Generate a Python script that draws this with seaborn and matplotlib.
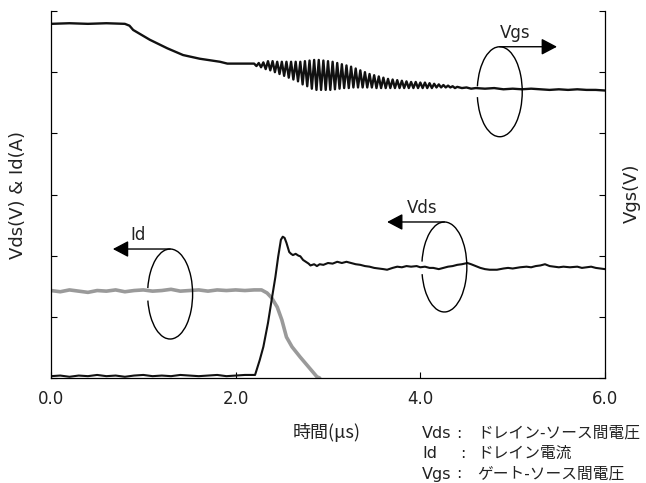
import numpy as np
import matplotlib
matplotlib.use("Agg")
import matplotlib.pyplot as plt
import seaborn as sns
from matplotlib.patches import Arc

# ---------------- data ----------------
# Vgs (black, top trace)
vgs_t = [0.0, 0.2, 0.4, 0.6, 0.80, 0.85, 0.89, 1.07, 1.26, 1.43, 1.61, 1.83, 1.91, 2.05, 2.15,
         2.200, 2.225, 2.250, 2.275, 2.300, 2.325, 2.350, 2.375, 2.400, 2.425, 2.450, 2.475,
         2.500, 2.525, 2.550, 2.575, 2.600, 2.625, 2.650, 2.675, 2.700, 2.725, 2.750, 2.775,
         2.800, 2.825, 2.850, 2.875, 2.900, 2.925, 2.950, 2.975, 3.000, 3.025, 3.050, 3.075,
         3.100, 3.125, 3.150, 3.175, 3.200, 3.225, 3.250, 3.275, 3.300, 3.325, 3.350, 3.375,
         3.400, 3.425, 3.450, 3.475, 3.500, 3.525, 3.550, 3.575, 3.600, 3.625, 3.650, 3.675,
         3.700, 3.725, 3.750, 3.775, 3.800, 3.825, 3.850, 3.875, 3.900, 3.925, 3.950, 3.975,
         4.000, 4.025, 4.050, 4.075, 4.100, 4.125, 4.150, 4.175, 4.200, 4.225, 4.250, 4.275,
         4.300, 4.325, 4.350, 4.375, 4.400,
         4.45, 4.50, 4.55, 4.60, 4.70, 4.80, 4.90, 5.00, 5.10, 5.20, 5.30, 5.40, 5.50, 5.60,
         5.70, 5.80, 5.90, 6.00]
vgs_v = [5.79, 5.80, 5.79, 5.80, 5.79, 5.76, 5.69, 5.53, 5.39, 5.28, 5.22, 5.17, 5.14, 5.14, 5.14,
         5.14, 5.10, 5.15, 5.08, 5.16, 5.05, 5.18, 5.03, 5.18, 5.00, 5.17, 4.97,
         5.17, 4.94, 5.17, 4.91, 5.17, 4.88, 5.17, 4.85, 5.17, 4.80, 5.18, 4.77,
         5.19, 4.73, 5.20, 4.71, 5.20, 4.71, 5.19, 4.71, 5.18, 4.71, 5.17, 4.72,
         5.15, 4.73, 5.13, 4.74, 5.11, 4.74, 5.09, 4.75, 5.06, 4.75, 5.03, 4.75,
         5.00, 4.75, 4.97, 4.75, 4.95, 4.74, 4.93, 4.74, 4.91, 4.74, 4.89, 4.74,
         4.88, 4.74, 4.87, 4.74, 4.86, 4.74, 4.85, 4.74, 4.84, 4.74, 4.84, 4.74,
         4.83, 4.74, 4.83, 4.74, 4.82, 4.74, 4.81, 4.75, 4.80, 4.75, 4.79, 4.75,
         4.78, 4.75, 4.77, 4.74, 4.76,
         4.74, 4.75, 4.73, 4.74, 4.73, 4.74, 4.72, 4.73, 4.72, 4.73, 4.72, 4.71, 4.72, 4.71,
         4.72, 4.71, 4.71, 4.70]

# Vds (black, lower trace)
vds_t = [0.0, 0.1, 0.2, 0.3, 0.4, 0.5, 0.6, 0.7, 0.8, 0.9, 1.0, 1.1, 1.2, 1.3, 1.4, 1.5, 1.6,
         1.7, 1.8, 1.9, 2.0, 2.1, 2.21, 2.26, 2.30, 2.35, 2.39, 2.43, 2.46, 2.49, 2.51, 2.53,
         2.55, 2.58, 2.60, 2.62, 2.65, 2.68, 2.70, 2.73, 2.76, 2.79, 2.81, 2.85, 2.88, 2.91,
         2.95, 3.00, 3.05, 3.10, 3.15, 3.20, 3.25, 3.30, 3.35, 3.40, 3.45, 3.50, 3.55, 3.60,
         3.64, 3.70, 3.75, 3.80, 3.85, 3.90, 3.96, 4.00, 4.05, 4.10, 4.14, 4.20, 4.25, 4.30,
         4.35, 4.40, 4.45, 4.51, 4.55, 4.60, 4.65, 4.70, 4.75, 4.83, 4.90, 4.95, 5.00, 5.08,
         5.15, 5.20, 5.25, 5.30, 5.35, 5.40, 5.45, 5.50, 5.55, 5.62, 5.70, 5.75, 5.80, 5.85,
         5.90, 5.95, 6.00]
vds_v = [0.03, 0.04, 0.02, 0.04, 0.03, 0.05, 0.03, 0.04, 0.02, 0.04, 0.05, 0.03, 0.04, 0.03,
         0.05, 0.04, 0.03, 0.04, 0.05, 0.03, 0.04, 0.05, 0.05, 0.29, 0.51, 0.90, 1.28, 1.65,
         1.98, 2.26, 2.31, 2.29, 2.21, 2.06, 2.03, 2.01, 2.03, 2.00, 1.99, 1.93, 1.90, 1.87,
         1.84, 1.86, 1.83, 1.86, 1.85, 1.88, 1.87, 1.90, 1.88, 1.90, 1.88, 1.86, 1.85, 1.83,
         1.82, 1.80, 1.79, 1.78, 1.77, 1.80, 1.82, 1.81, 1.83, 1.82, 1.83, 1.81, 1.82, 1.80,
         1.80, 1.78, 1.80, 1.82, 1.83, 1.85, 1.86, 1.88, 1.86, 1.83, 1.80, 1.78, 1.77, 1.77,
         1.79, 1.80, 1.79, 1.81, 1.82, 1.81, 1.83, 1.84, 1.86, 1.83, 1.82, 1.81, 1.82, 1.81,
         1.82, 1.80, 1.81, 1.82, 1.80, 1.79, 1.78]

# Id (grey trace)
id_t = [0.0, 0.1, 0.2, 0.3, 0.4, 0.5, 0.6, 0.7, 0.8, 0.9, 1.0, 1.1, 1.2, 1.3, 1.4, 1.5, 1.6,
        1.7, 1.8, 1.9, 2.0, 2.1, 2.2, 2.28, 2.34, 2.39, 2.45, 2.50, 2.55, 2.61, 2.70, 2.79,
        2.88, 2.91]
id_v = [1.43, 1.41, 1.44, 1.42, 1.40, 1.43, 1.42, 1.44, 1.41, 1.43, 1.44, 1.42, 1.43, 1.45,
        1.42, 1.43, 1.44, 1.42, 1.44, 1.43, 1.44, 1.43, 1.44, 1.44, 1.39, 1.31, 1.16, 0.95,
        0.67, 0.51, 0.34, 0.18, 0.02, 0.0]

x_ticks = [0, 2, 4, 6]
x_tick_labels = ["0.0", "2.0", "4.0", "6.0"]
y_ticks = [0, 1, 2, 3, 4, 5, 6]

legend_abbr = ["Vds", "Id", "Vgs"]
legend_desc = ["ドレイン-ソース間電圧", "ドレイン電流", "ゲート-ソース間電圧"]

# ---------------- styling ----------------
sns.set_style("ticks")
plt.rcParams['font.family'] = ['DejaVu Sans', 'Noto Sans CJK JP']

W, H = 646, 483
fig = plt.figure(figsize=(W / 100, H / 100), dpi=100)
ax = fig.add_axes([51 / W, 1 - 378 / H, (605 - 51) / W, (378 - 11) / H])

sns.lineplot(x=id_t, y=id_v, ax=ax, color="#9a9a9a", lw=2.6, estimator=None, sort=False)
sns.lineplot(x=vds_t, y=vds_v, ax=ax, color="#111111", lw=1.5, estimator=None, sort=False)
sns.lineplot(x=vgs_t, y=vgs_v, ax=ax, color="#111111", lw=1.7, estimator=None, sort=False)

ax.set_xlim(0, 6)
ax.set_ylim(0, 6)
ax.set_xticks(x_ticks)
ax.set_xticklabels(x_tick_labels)
ax.set_yticks(y_ticks)
ax.set_xlabel("")
ax.set_ylabel("")
ax.tick_params(axis="y", left=True, right=True, labelleft=False, labelright=False,
               direction="in", length=4.5, width=0.8, color="black")
ax.tick_params(axis="x", direction="in", length=4.5, width=0.8, pad=9, labelsize=12,
               color="black", labelcolor="#222222")
ax.spines["top"].set_visible(False)
for s in ["left", "right", "bottom"]:
    ax.spines[s].set_color("black")
    ax.spines[s].set_linewidth(0.9)

# ---------------- rotation-symbol annotations ----------------
px_t = 6 / (605 - 51)      # data units per pixel (x)
px_v = 6 / (378 - 11)      # data units per pixel (y)
ew, eh = 45 * px_t, 90 * px_v

def marker(cx, cy, th1, th2, tip_x, label, lx, ly):
    ax.add_patch(Arc((cx, cy), ew, eh, theta1=th1, theta2=th2, color="black", lw=1.0, zorder=5))
    top = cy + eh / 2
    ax.annotate("", xy=(tip_x, top), xytext=(cx, top),
                arrowprops=dict(arrowstyle="-|>,head_length=0.95,head_width=0.5",
                                color="black", lw=1.0, shrinkA=0, shrinkB=0), zorder=6)
    ax.text(lx, ly, label, ha="center", va="center", fontsize=12, color="#222222")

marker(4.86, 4.68, 200, 160, 5.48, "Vgs", 5.03, 5.64)
marker(4.26, 1.815, 206, 160, 3.64, "Vds", 4.02, 2.78)
marker(1.29, 1.373, 204, 158, 0.67, "Id", 0.94, 2.34)

# ---------------- axis labels & notes ----------------
fig.text(18 / W, 1 - 195 / H, "Vds(V) & Id(A)", rotation=90, ha="center", va="center",
         fontsize=13, color="#222222")
fig.text(632 / W, 1 - 193 / H, "Vgs(V)", rotation=90, ha="center", va="center",
         fontsize=13, color="#222222")
fig.text(327 / W, 1 - 433 / H, "時間(μs)", ha="center", va="center", fontsize=13,
         color="#222222", family=["Noto Sans CJK JP", "DejaVu Sans"])

ys = [433, 453, 474]
colon_x = [459, 463, 459]
for abbr, desc, y, cxp in zip(legend_abbr, legend_desc, ys, colon_x):
    fig.text(422 / W, 1 - y / H, abbr, ha="left", va="center", fontsize=11.5, color="#222222")
    fig.text(cxp / W, 1 - y / H, ":", ha="center", va="center", fontsize=11.5, color="#222222")
    fig.text(477 / W, 1 - y / H, desc, ha="left", va="center", fontsize=11.3, color="#222222",
             family=["Noto Sans CJK JP", "DejaVu Sans"])

fig.savefig("out.png", dpi=100)
